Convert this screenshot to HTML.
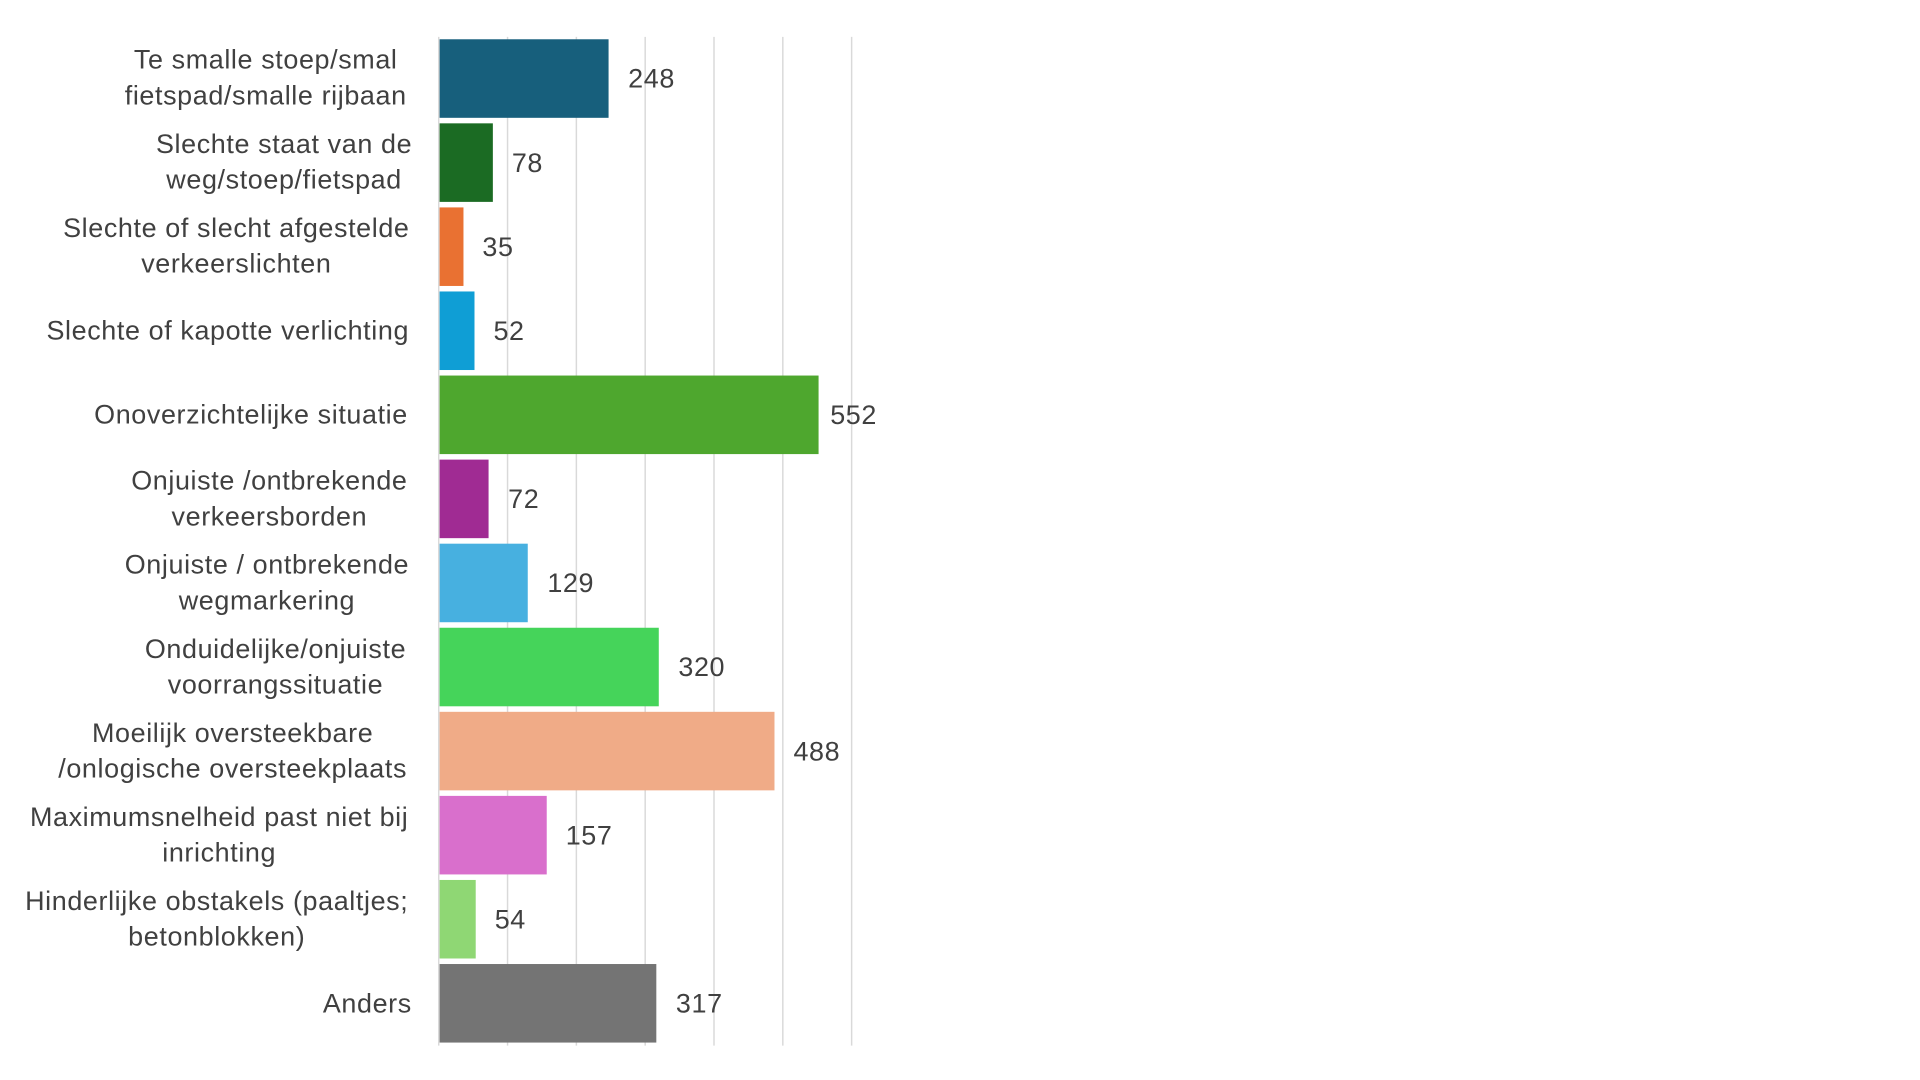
<!DOCTYPE html>
<html><head><meta charset="utf-8"><style>
html,body{margin:0;padding:0;background:#fff;width:1920px;height:1080px;overflow:hidden}
svg{display:block}
text{font-family:"Liberation Sans",sans-serif;fill:#404040;font-size:22px;letter-spacing:0.5px}
</style></head><body>
<svg width="1920" height="1080" viewBox="0 0 1568 880" preserveAspectRatio="none">
<g stroke="#d9d9d9" stroke-width="1.2">
<line x1="414.5" y1="30" x2="414.5" y2="852"/><line x1="470.7" y1="30" x2="470.7" y2="852"/>
<line x1="526.9" y1="30" x2="526.9" y2="852"/><line x1="583.1" y1="30" x2="583.1" y2="852"/>
<line x1="639.3" y1="30" x2="639.3" y2="852"/><line x1="695.5" y1="30" x2="695.5" y2="852"/>
<line x1="358.3" y1="30" x2="358.3" y2="852"/>
</g>
<g>
<rect x="359" y="32" width="138" height="64" fill="#175f7c"/>
<rect x="359" y="100.5" width="43.5" height="64" fill="#1b6b23"/>
<rect x="359" y="169" width="19.5" height="64" fill="#e97132"/>
<rect x="359" y="237.5" width="28.5" height="64" fill="#0f9ed5"/>
<rect x="359" y="306" width="309.5" height="64" fill="#4ea72e"/>
<rect x="359" y="374.5" width="40" height="64" fill="#a02b93"/>
<rect x="359" y="443" width="72" height="64" fill="#47b0e0"/>
<rect x="359" y="511.5" width="179" height="64" fill="#45d45a"/>
<rect x="359" y="580" width="273.5" height="64" fill="#f0ab87"/>
<rect x="359" y="648.5" width="87.5" height="64" fill="#d96fcc"/>
<rect x="359" y="717" width="29.5" height="64" fill="#8fd774"/>
<rect x="359" y="785.5" width="177" height="64" fill="#747474"/>
</g>
<g>
<text x="513" y="71.5">248</text>
<text x="418" y="140">78</text>
<text x="394" y="208.5">35</text>
<text x="403" y="277">52</text>
<text x="678" y="345.5">552</text>
<text x="415" y="414">72</text>
<text x="447" y="482.5">129</text>
<text x="554" y="551">320</text>
<text x="648" y="619.5">488</text>
<text x="462" y="688">157</text>
<text x="404" y="756.5">54</text>
<text x="552" y="825">317</text>
</g>
<g text-anchor="middle">
<text x="217" y="56">Te smalle stoep/smal</text><text x="217" y="85">fietspad/smalle rijbaan</text>
<text x="232" y="124.5">Slechte staat van de</text><text x="232" y="153.5">weg/stoep/fietspad</text>
<text x="193" y="193">Slechte of slecht afgestelde</text><text x="193" y="222">verkeerslichten</text>
<text x="186" y="276.5">Slechte of kapotte verlichting</text>
<text x="205" y="345">Onoverzichtelijke situatie</text>
<text x="220" y="399">Onjuiste /ontbrekende</text><text x="220" y="428">verkeersborden</text>
<text x="218" y="467.5">Onjuiste / ontbrekende</text><text x="218" y="496.5">wegmarkering</text>
<text x="225" y="536">Onduidelijke/onjuiste</text><text x="225" y="565">voorrangssituatie</text>
<text x="190" y="604.5">Moeilijk oversteekbare</text><text x="190" y="633.5">/onlogische oversteekplaats</text>
<text x="179" y="673">Maximumsnelheid past niet bij</text><text x="179" y="702">inrichting</text>
<text x="177" y="741.5">Hinderlijke obstakels (paaltjes;</text><text x="177" y="770.5">betonblokken)</text>
<text x="300" y="825">Anders</text>
</g>
</svg>
</body></html>
